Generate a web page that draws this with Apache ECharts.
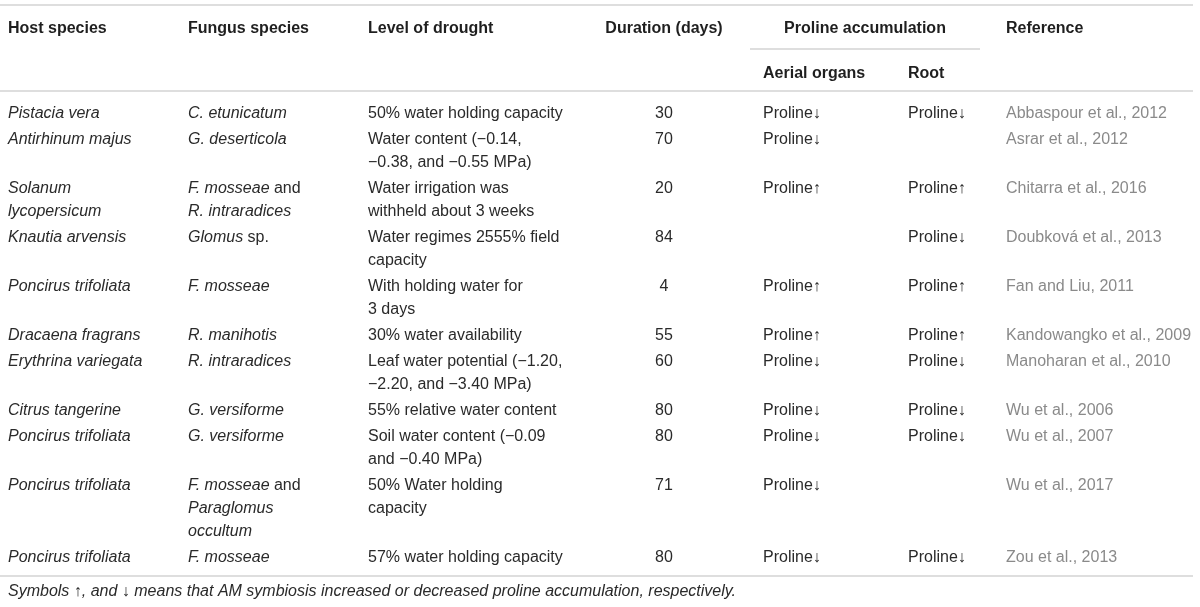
<!DOCTYPE html>
<html lang="en">
<head>
    <meta charset="UTF-8">
    <title>Proline accumulation</title>
    <script src="https://cdn.jsdelivr.net/npm/echarts@6/dist/echarts.min.js"></script>
    <style>
        body { margin: 0; background: #fff; }
    </style>
</head>
<body>
<div id="table" style="width: 1200px;height:607px;"></div>
<script>

    // table content, one entry per row
    const hostSpecies = [
        'Pistacia vera', 'Antirhinum majus', 'Solanum\nlycopersicum', 'Knautia arvensis',
        'Poncirus trifoliata', 'Dracaena fragrans', 'Erythrina variegata', 'Citrus tangerine',
        'Poncirus trifoliata', 'Poncirus trifoliata', 'Poncirus trifoliata'
    ];
    const fungusSpecies = [
        '{i|C. etunicatum}', '{i|G. deserticola}', '{i|F. mosseae}{n| and}\n{i|R. intraradices}',
        '{i|Glomus}{n| sp.}', '{i|F. mosseae}', '{i|R. manihotis}', '{i|R. intraradices}',
        '{i|G. versiforme}', '{i|G. versiforme}', '{i|F. mosseae}{n| and}\n{i|Paraglomus}\n{i|occultum}',
        '{i|F. mosseae}'
    ];
    const droughtLevel = [
        '50% water holding capacity',
        'Water content (\u22120.14,\n\u22120.38, and \u22120.55 MPa)',
        'Water irrigation was\nwithheld about 3 weeks',
        'Water regimes 2555% field\ncapacity',
        'With holding water for\n3 days',
        '30% water availability',
        'Leaf water potential (\u22121.20,\n\u22122.20, and \u22123.40 MPa)',
        '55% relative water content',
        'Soil water content (\u22120.09\nand \u22120.40 MPa)',
        '50% Water holding\ncapacity',
        '57% water holding capacity'
    ];
    const durationDays = [30, 70, 20, 84, 4, 55, 60, 80, 80, 71, 80];
    const aerialOrgans = ['Proline\u2193', 'Proline\u2193', 'Proline\u2191', '', 'Proline\u2191', 'Proline\u2191',
        'Proline\u2193', 'Proline\u2193', 'Proline\u2193', 'Proline\u2193', 'Proline\u2193'];
    const rootProline = ['Proline\u2193', '', 'Proline\u2191', 'Proline\u2193', 'Proline\u2191', 'Proline\u2191',
        'Proline\u2193', 'Proline\u2193', 'Proline\u2193', '', 'Proline\u2193'];
    const references = [
        'Abbaspour et al., 2012', 'Asrar et al., 2012', 'Chitarra et al., 2016', 'Doubkov\u00e1 et al., 2013',
        'Fan and Liu, 2011', 'Kandowangko et al., 2009', 'Manoharan et al., 2010', 'Wu et al., 2006',
        'Wu et al., 2007', 'Wu et al., 2017', 'Zou et al., 2013'
    ];
    const headers = ['Host species', 'Fungus species', 'Level of drought', 'Duration (days)',
        'Proline accumulation', 'Reference'];
    const subHeaders = ['Aerial organs', 'Root'];
    const footnote = 'Symbols \u2191, and \u2193 means that AM symbiosis increased or decreased proline accumulation, respectively.';

    const FONT = '"Liberation Sans", Arial, sans-serif';
    const INK = '#2a2a2a';
    const HEAD = '#1f1f1f';
    const GREY = '#8a8a8a';
    const LINE_H = 23;

    // column anchors in table space
    const colX = {host: 8, fungus: 188, level: 368, duration: 664, aerial: 763, root: 908, ref: 1006};

    const cells = [];
    function addCell(x, yCenter, text, opts) {
        cells.push(Object.assign({x: x, y: yCenter - LINE_H / 2 + 2, text: String(text), align: 'left',
            color: INK, italic: false, bold: false, rich: false}, opts || {}));
    }

    headers.forEach((h, i) => {
        const x = [colX.host, colX.fungus, colX.level, colX.duration, 865, colX.ref][i];
        const align = (i === 3 || i === 4) ? 'center' : 'left';
        addCell(x, 27, h, {bold: true, align: align, color: HEAD});
    });
    addCell(colX.aerial, 72, subHeaders[0], {bold: true, color: HEAD});
    addCell(colX.root, 72, subHeaders[1], {bold: true, color: HEAD});

    let y = 112;
    hostSpecies.forEach((host, i) => {
        const lines = Math.max(host.split('\n').length, fungusSpecies[i].split('\n').length,
            droughtLevel[i].split('\n').length);
        addCell(colX.host, y, host, {italic: true});
        addCell(colX.fungus, y, fungusSpecies[i], {rich: true});
        addCell(colX.level, y, droughtLevel[i]);
        addCell(colX.duration, y, durationDays[i], {align: 'center'});
        if (aerialOrgans[i]) addCell(colX.aerial, y, aerialOrgans[i]);
        if (rootProline[i]) addCell(colX.root, y, rootProline[i]);
        addCell(colX.ref, y, references[i], {color: GREY});
        y += lines * LINE_H + 3;
    });
    addCell(colX.host, 590, footnote, {italic: true});

    // horizontal rules: [x1, x2, y]
    const rules = [[0, 1193, 5], [750, 980, 49], [0, 1193, 91], [0, 1193, 576]];

    let table = echarts.init(document.getElementById('table'));
    table.setOption({
        animation: false,
        grid: {left: 0, right: 0, top: 0, bottom: 0},
        xAxis: {type: 'value', min: 0, max: 1200, show: false},
        yAxis: {type: 'value', min: 0, max: 607, inverse: true, show: false},
        series: [{
            type: 'custom',
            name: 'rules',
            data: rules,
            renderItem: function (params, api) {
                const a = api.coord([api.value(0), api.value(2)]);
                const b = api.coord([api.value(1), api.value(2)]);
                return {
                    type: 'line',
                    shape: {x1: a[0], y1: a[1], x2: b[0], y2: b[1]},
                    style: {stroke: '#dedede', lineWidth: 2}
                };
            }
        }, {
            type: 'custom',
            name: 'cells',
            data: cells.map(c => [c.x, c.y]),
            renderItem: function (params, api) {
                const c = cells[params.dataIndex];
                const p = api.coord([api.value(0), api.value(1)]);
                return {
                    type: 'text',
                    x: p[0],
                    y: p[1],
                    style: {
                        text: c.text,
                        fill: c.color,
                        fontFamily: FONT,
                        fontSize: 16,
                        fontStyle: c.italic ? 'italic' : 'normal',
                        fontWeight: c.bold ? 'bold' : 'normal',
                        lineHeight: LINE_H,
                        align: c.align,
                        verticalAlign: 'top',
                        rich: c.rich ? {
                            i: {fontFamily: FONT, fontSize: 16, fontStyle: 'italic', fill: INK, lineHeight: LINE_H},
                            n: {fontFamily: FONT, fontSize: 16, fontStyle: 'normal', fill: INK, lineHeight: LINE_H}
                        } : undefined
                    }
                };
            }
        }]
    });
</script>
</body>
</html>
